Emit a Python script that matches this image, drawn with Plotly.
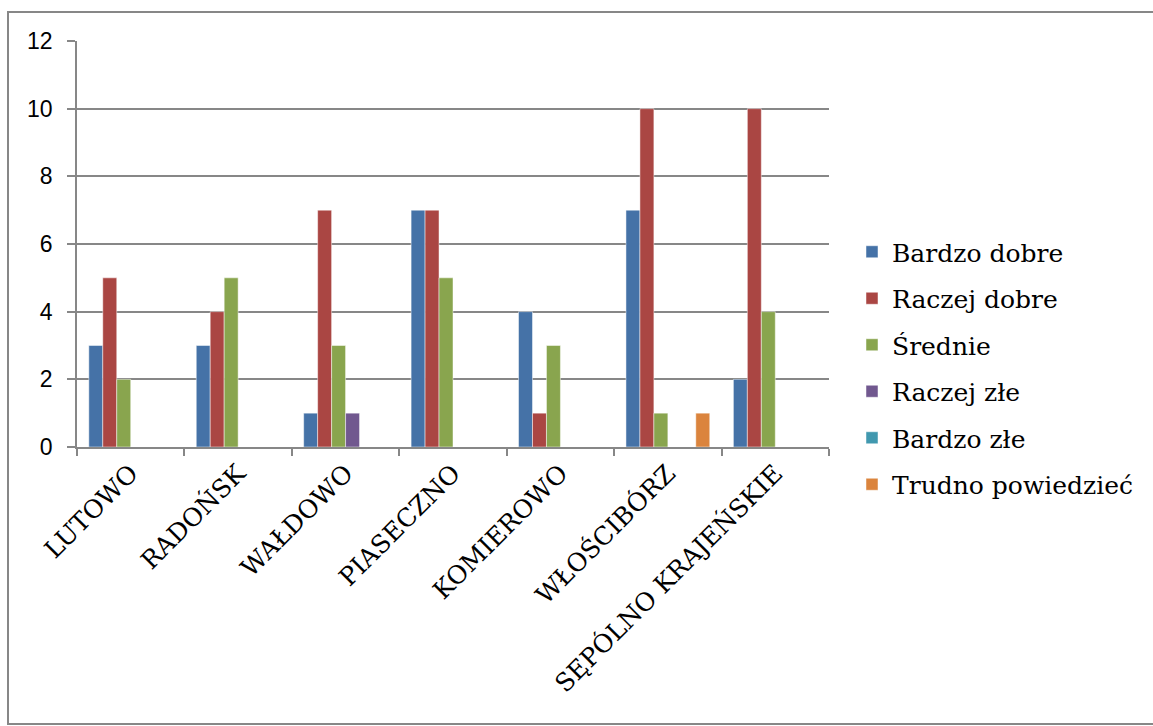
import plotly.graph_objects as go

categories = ["LUTOWO", "RADOŃSK", "WAŁDOWO", "PIASECZNO", "KOMIEROWO", "WŁOŚCIBÓRZ", "SĘPÓLNO KRAJEŃSKIE"]
series_names = ["Bardzo dobre", "Raczej dobre", "Średnie", "Raczej złe", "Bardzo złe", "Trudno powiedzieć"]
bardzo_dobre = [3, 3, 1, 7, 4, 7, 2]
raczej_dobre = [5, 4, 7, 7, 1, 10, 10]
srednie = [2, 5, 3, 5, 3, 1, 4]
raczej_zle = [0, 0, 1, 0, 0, 0, 0]
bardzo_zle = [0, 0, 0, 0, 0, 0, 0]
trudno = [0, 0, 0, 0, 0, 1, 0]
y_ticks = [0, 2, 4, 6, 8, 10, 12]

colors = ["#4572A7", "#AA4643", "#89A54E", "#71588F", "#4198AF", "#DB843D"]
values = [bardzo_dobre, raczej_dobre, srednie, raczej_zle, bardzo_zle, trudno]

fig = go.Figure()
for name, vals, col in zip(series_names, values, colors):
    fig.add_trace(go.Bar(
        x=categories, y=vals, name=name, legendgroup=name,
        marker=dict(color=col, line=dict(color="rgba(255,255,255,0.6)", width=0.8)),
    ))

W, H = 1153, 726
L, R, T, B = 77, 829, 41, 447
pw, ph = R - L, B - T

def px(x):
    return (x - L) / pw

def py(y):
    return (B - y) / ph

fig.update_layout(
    width=W, height=H,
    margin=dict(l=L, r=W - R, t=T, b=H - B, pad=0),
    paper_bgcolor="white", plot_bgcolor="white",
    barmode="group", bargap=0.22, bargroupgap=0,
    showlegend=True,
    legend=dict(
        x=px(852), xanchor="left", y=py(368), yanchor="middle",
        font=dict(family="DejaVu Serif", size=25, color="#000000"),
        tracegroupgap=11, bgcolor="rgba(0,0,0,0)",
    ),
    xaxis=dict(
        type="category", tickangle=-45,
        tickfont=dict(family="DejaVu Serif", size=25, color="#000000"),
        showline=True, linecolor="#878787", linewidth=1.5,
        ticks="outside", tickson="boundaries", ticklen=7, tickcolor="#878787", tickwidth=1.5,
        showgrid=False, range=[-0.5, 6.5],
    ),
    yaxis=dict(
        range=[0, 12], tickvals=y_ticks,
        tickfont=dict(family="Liberation Sans", size=23, color="#000000"),
        showline=True, linecolor="#878787", linewidth=1.5,
        ticks="outside", ticklen=8, tickcolor="#878787", tickwidth=1.5,
        showgrid=True, gridcolor="#878787", gridwidth=1.5,
        zeroline=False, ticklabelstandoff=10,
    ),
    shapes=[dict(
        type="rect", xref="paper", yref="paper",
        x0=px(8), x1=px(1170), y0=py(724), y1=py(12),
        line=dict(color="#878787", width=2), fillcolor="rgba(0,0,0,0)", layer="below",
    )],
)

fig.write_html(
    "out.html",
    config={"displayModeBar": False},
    post_script="document.body.style.margin='0';document.body.style.overflow='hidden';",
)
